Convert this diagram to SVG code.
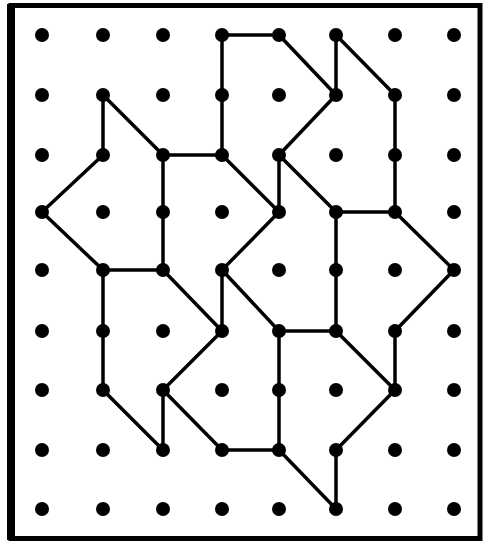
<svg xmlns="http://www.w3.org/2000/svg" width="486" height="544" viewBox="0 0 486 544">
<style>
.dot{fill:#000}
.edge{stroke:#000;stroke-width:3.5;stroke-linecap:round;fill:none}
.frame{fill:none;stroke:#000}
</style>
<rect x="0" y="0" width="486" height="544" fill="#fff"/>
<g id="frame">
<rect class="frame" x="11" y="5.5" width="469" height="533" stroke-width="5"/>
<line class="frame" x1="11" y1="4" x2="11" y2="540" stroke-width="8"/>
</g>
<g id="connectors">
<line class="edge" x1="222" y1="35" x2="279" y2="35"/>
<line class="edge" x1="222" y1="35" x2="222" y2="155"/>
<line class="edge" x1="103" y1="95" x2="103" y2="155"/>
<line class="edge" x1="103" y1="95" x2="163" y2="155"/>
<line class="edge" x1="163" y1="155" x2="222" y2="155"/>
<line class="edge" x1="103" y1="155" x2="42" y2="212"/>
<line class="edge" x1="42" y1="212" x2="103" y2="270"/>
<line class="edge" x1="163" y1="155" x2="163" y2="270"/>
<line class="edge" x1="103" y1="270" x2="163" y2="270"/>
<line class="edge" x1="222" y1="155" x2="279" y2="212"/>
<line class="edge" x1="279" y1="212" x2="222" y2="270"/>
<line class="edge" x1="279" y1="35" x2="336" y2="95"/>
<line class="edge" x1="336" y1="35" x2="336" y2="95"/>
<line class="edge" x1="336" y1="35" x2="395" y2="95"/>
<line class="edge" x1="336" y1="95" x2="279" y2="155"/>
<line class="edge" x1="395" y1="95" x2="395" y2="212"/>
<line class="edge" x1="279" y1="155" x2="279" y2="212"/>
<line class="edge" x1="279" y1="155" x2="336" y2="212"/>
<line class="edge" x1="336" y1="212" x2="395" y2="212"/>
<line class="edge" x1="336" y1="212" x2="336" y2="331"/>
<line class="edge" x1="395" y1="212" x2="454" y2="270"/>
<line class="edge" x1="103" y1="270" x2="103" y2="390"/>
<line class="edge" x1="163" y1="270" x2="222" y2="331"/>
<line class="edge" x1="222" y1="270" x2="222" y2="331"/>
<line class="edge" x1="222" y1="270" x2="279" y2="331"/>
<line class="edge" x1="222" y1="331" x2="163" y2="390"/>
<line class="edge" x1="103" y1="390" x2="163" y2="450"/>
<line class="edge" x1="163" y1="390" x2="163" y2="450"/>
<line class="edge" x1="163" y1="390" x2="222" y2="450"/>
<line class="edge" x1="222" y1="450" x2="279" y2="450"/>
<line class="edge" x1="454" y1="270" x2="395" y2="331"/>
<line class="edge" x1="279" y1="331" x2="336" y2="331"/>
<line class="edge" x1="279" y1="331" x2="279" y2="450"/>
<line class="edge" x1="336" y1="331" x2="395" y2="390"/>
<line class="edge" x1="395" y1="331" x2="395" y2="390"/>
<line class="edge" x1="395" y1="390" x2="336" y2="450"/>
<line class="edge" x1="279" y1="450" x2="336" y2="509"/>
<line class="edge" x1="336" y1="450" x2="336" y2="509"/>
</g>
<g id="dots">
<g id="p0-0"><circle class="dot" cx="42" cy="35" r="7"/></g>
<g id="p1-0"><circle class="dot" cx="103" cy="35" r="7"/></g>
<g id="p2-0"><circle class="dot" cx="163" cy="35" r="7"/></g>
<g id="p3-0"><circle class="dot" cx="222" cy="35" r="7"/></g>
<g id="p4-0"><circle class="dot" cx="279" cy="35" r="7"/></g>
<g id="p5-0"><circle class="dot" cx="336" cy="35" r="7"/></g>
<g id="p6-0"><circle class="dot" cx="395" cy="35" r="7"/></g>
<g id="p7-0"><circle class="dot" cx="454" cy="35" r="7"/></g>
<g id="p0-1"><circle class="dot" cx="42" cy="95" r="7"/></g>
<g id="p1-1"><circle class="dot" cx="103" cy="95" r="7"/></g>
<g id="p2-1"><circle class="dot" cx="163" cy="95" r="7"/></g>
<g id="p3-1"><circle class="dot" cx="222" cy="95" r="7"/></g>
<g id="p4-1"><circle class="dot" cx="279" cy="95" r="7"/></g>
<g id="p5-1"><circle class="dot" cx="336" cy="95" r="7"/></g>
<g id="p6-1"><circle class="dot" cx="395" cy="95" r="7"/></g>
<g id="p7-1"><circle class="dot" cx="454" cy="95" r="7"/></g>
<g id="p0-2"><circle class="dot" cx="42" cy="155" r="7"/></g>
<g id="p1-2"><circle class="dot" cx="103" cy="155" r="7"/></g>
<g id="p2-2"><circle class="dot" cx="163" cy="155" r="7"/></g>
<g id="p3-2"><circle class="dot" cx="222" cy="155" r="7"/></g>
<g id="p4-2"><circle class="dot" cx="279" cy="155" r="7"/></g>
<g id="p5-2"><circle class="dot" cx="336" cy="155" r="7"/></g>
<g id="p6-2"><circle class="dot" cx="395" cy="155" r="7"/></g>
<g id="p7-2"><circle class="dot" cx="454" cy="155" r="7"/></g>
<g id="p0-3"><circle class="dot" cx="42" cy="212" r="7"/></g>
<g id="p1-3"><circle class="dot" cx="103" cy="212" r="7"/></g>
<g id="p2-3"><circle class="dot" cx="163" cy="212" r="7"/></g>
<g id="p3-3"><circle class="dot" cx="222" cy="212" r="7"/></g>
<g id="p4-3"><circle class="dot" cx="279" cy="212" r="7"/></g>
<g id="p5-3"><circle class="dot" cx="336" cy="212" r="7"/></g>
<g id="p6-3"><circle class="dot" cx="395" cy="212" r="7"/></g>
<g id="p7-3"><circle class="dot" cx="454" cy="212" r="7"/></g>
<g id="p0-4"><circle class="dot" cx="42" cy="270" r="7"/></g>
<g id="p1-4"><circle class="dot" cx="103" cy="270" r="7"/></g>
<g id="p2-4"><circle class="dot" cx="163" cy="270" r="7"/></g>
<g id="p3-4"><circle class="dot" cx="222" cy="270" r="7"/></g>
<g id="p4-4"><circle class="dot" cx="279" cy="270" r="7"/></g>
<g id="p5-4"><circle class="dot" cx="336" cy="270" r="7"/></g>
<g id="p6-4"><circle class="dot" cx="395" cy="270" r="7"/></g>
<g id="p7-4"><circle class="dot" cx="454" cy="270" r="7"/></g>
<g id="p0-5"><circle class="dot" cx="42" cy="331" r="7"/></g>
<g id="p1-5"><circle class="dot" cx="103" cy="331" r="7"/></g>
<g id="p2-5"><circle class="dot" cx="163" cy="331" r="7"/></g>
<g id="p3-5"><circle class="dot" cx="222" cy="331" r="7"/></g>
<g id="p4-5"><circle class="dot" cx="279" cy="331" r="7"/></g>
<g id="p5-5"><circle class="dot" cx="336" cy="331" r="7"/></g>
<g id="p6-5"><circle class="dot" cx="395" cy="331" r="7"/></g>
<g id="p7-5"><circle class="dot" cx="454" cy="331" r="7"/></g>
<g id="p0-6"><circle class="dot" cx="42" cy="390" r="7"/></g>
<g id="p1-6"><circle class="dot" cx="103" cy="390" r="7"/></g>
<g id="p2-6"><circle class="dot" cx="163" cy="390" r="7"/></g>
<g id="p3-6"><circle class="dot" cx="222" cy="390" r="7"/></g>
<g id="p4-6"><circle class="dot" cx="279" cy="390" r="7"/></g>
<g id="p5-6"><circle class="dot" cx="336" cy="390" r="7"/></g>
<g id="p6-6"><circle class="dot" cx="395" cy="390" r="7"/></g>
<g id="p7-6"><circle class="dot" cx="454" cy="390" r="7"/></g>
<g id="p0-7"><circle class="dot" cx="42" cy="450" r="7"/></g>
<g id="p1-7"><circle class="dot" cx="103" cy="450" r="7"/></g>
<g id="p2-7"><circle class="dot" cx="163" cy="450" r="7"/></g>
<g id="p3-7"><circle class="dot" cx="222" cy="450" r="7"/></g>
<g id="p4-7"><circle class="dot" cx="279" cy="450" r="7"/></g>
<g id="p5-7"><circle class="dot" cx="336" cy="450" r="7"/></g>
<g id="p6-7"><circle class="dot" cx="395" cy="450" r="7"/></g>
<g id="p7-7"><circle class="dot" cx="454" cy="450" r="7"/></g>
<g id="p0-8"><circle class="dot" cx="42" cy="509" r="7"/></g>
<g id="p1-8"><circle class="dot" cx="103" cy="509" r="7"/></g>
<g id="p2-8"><circle class="dot" cx="163" cy="509" r="7"/></g>
<g id="p3-8"><circle class="dot" cx="222" cy="509" r="7"/></g>
<g id="p4-8"><circle class="dot" cx="279" cy="509" r="7"/></g>
<g id="p5-8"><circle class="dot" cx="336" cy="509" r="7"/></g>
<g id="p6-8"><circle class="dot" cx="395" cy="509" r="7"/></g>
<g id="p7-8"><circle class="dot" cx="454" cy="509" r="7"/></g>
</g>
</svg>
